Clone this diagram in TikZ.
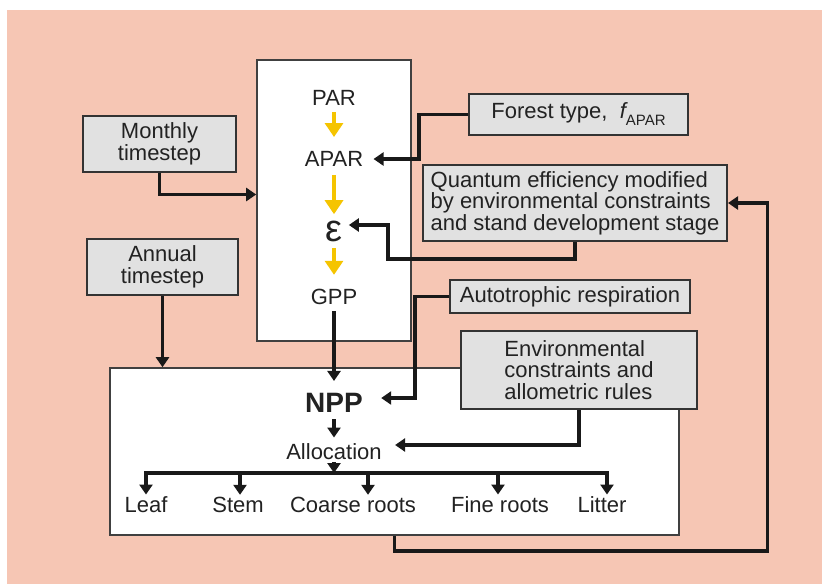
\documentclass[tikz,border=0pt]{standalone}
\usepackage{fontspec}
\setmainfont{Liberation Sans}
\usetikzlibrary{positioning, arrows.meta, calc}

\definecolor{bgsalmon}{HTML}{F6C6B4}
\definecolor{boxgray}{HTML}{E1E1E1}
\definecolor{photoyellow}{HTML}{F5C400}
\definecolor{inkgray}{HTML}{222222}

\begin{document}
\begin{tikzpicture}[x=0.5pt, y=-0.5pt,
    every node/.style={align=center, text=inkgray, inner sep=3pt, font=\fontsize{11}{10.8}\selectfont},
    panel/.style={rectangle, draw=black!75, line width=0.8pt, fill=white},
    inbox/.style={rectangle, draw=black!80, line width=1pt, fill=boxgray},
    karrow/.style={-{Triangle[width=6.5pt,length=5pt]}, line width=1.7pt, draw=black!90},
    yarrow/.style={-{Triangle[width=9pt,length=7pt]}, line width=1.6pt, draw=photoyellow}]

        % Background
        \useasboundingbox (0,0) rectangle (822,584);
        \fill[bgsalmon] (7,10) rectangle (822,584);

        % Photosynthesis and growth panels
        \node (photo) [panel, minimum width=77pt, minimum height=140.5pt] at (334,200.5) {};
        \node (growth) [panel, minimum width=284.5pt, minimum height=83.5pt] at (394.5,451.5) {};

        % Photosynthesis chain
        \node (par) at (334,98) {PAR};
        \node (apar) at (334,159) {APAR};
        \node (eps) at (334,231) {\fontsize{19}{19}\selectfont ε};
        \node (gpp) at (334,297) {GPP};

        % Growth and allocation
        \node (npp) at (334,403) {\fontsize{14}{14}\selectfont\bfseries NPP};
        \node (alloc) at (334,452) {Allocation};
        \coordinate (split) at (334,473);
        \node (leaf) at (146,505) {Leaf};
        \node (stem) at (238,505) {Stem};
        \node (coarse) at (353,505) {Coarse roots};
        \node (fine) at (500,505) {Fine roots};
        \node (litter) at (602,505) {Litter};

        % Drivers
        \node (monthly) [inbox, minimum width=76.5pt, minimum height=28pt] at (159.5,144) {Monthly\\timestep};
        \node (annual) [inbox, minimum width=75.5pt, minimum height=28pt] at (162.5,267) {Annual\\timestep};
        \node (forest) [inbox, minimum width=109.5pt, minimum height=20.5pt] at (578.5,114.5)
        {Forest type,\ \ {\itshape f}\raisebox{-3.5pt}{\fontsize{7.5}{8}\selectfont APAR}};
        \node (quantum) [inbox, align=left, minimum width=152pt, minimum height=38pt] at (575,203)
        {Quantum efficiency modified\\by environmental constraints\\and stand development stage};
        \node (autoresp) [inbox, minimum width=120pt, minimum height=15.5pt] at (570,296.5) {Autotrophic respiration};
        \node (envcons) [inbox, align=left, minimum width=118pt, minimum height=39pt] at (579,370)
        {Environmental\\constraints and\\allometric rules};

        % Yellow light-use arrows
        \draw[yarrow, shorten >=4pt] (par) -- (apar);
        \draw[yarrow, shorten <=1pt] (apar) -- (eps);
        \draw[yarrow, shorten >=4pt] (eps) -- (gpp);

        % Inputs to the panels
        \draw[karrow] (monthly.south) |- ([yshift=3pt]photo.west);
        \draw[karrow] (annual.south) -- (annual.south |- growth.north);
        \draw[karrow] (forest.west) -- ++(-49,0) |- ([xshift=2pt]apar.east);
        \draw[karrow] (quantum.south) -- ++(0,17) -- ++(-187,0) |- ([yshift=3pt]eps.east);
        \draw[karrow] (autoresp.west) -- ++(-34,0) |- ([xshift=6pt,yshift=2.5pt]npp.east);
        \draw[karrow] (envcons.south) |- ([xshift=3.5pt,yshift=3.5pt]alloc.east);

        % Carbon flow
        \draw[karrow, shorten >=3pt] (gpp) -- (npp);
        \draw[karrow] (npp) -- (alloc);
        \draw[karrow] ([yshift=2pt]alloc.south) -- (split);
        \foreach \part/\dx in {leaf/0, stem/1, coarse/7.5, fine/-1, litter/2.5}
            \draw[karrow] (split) -| ([xshift=\dx pt, yshift=-2pt]\part.north);

        % Feedback to quantum efficiency
        \draw[karrow] (growth.south) -- ++(0,15) -- ++(373,0) |- (quantum.east);
\end{tikzpicture}
\end{document}
